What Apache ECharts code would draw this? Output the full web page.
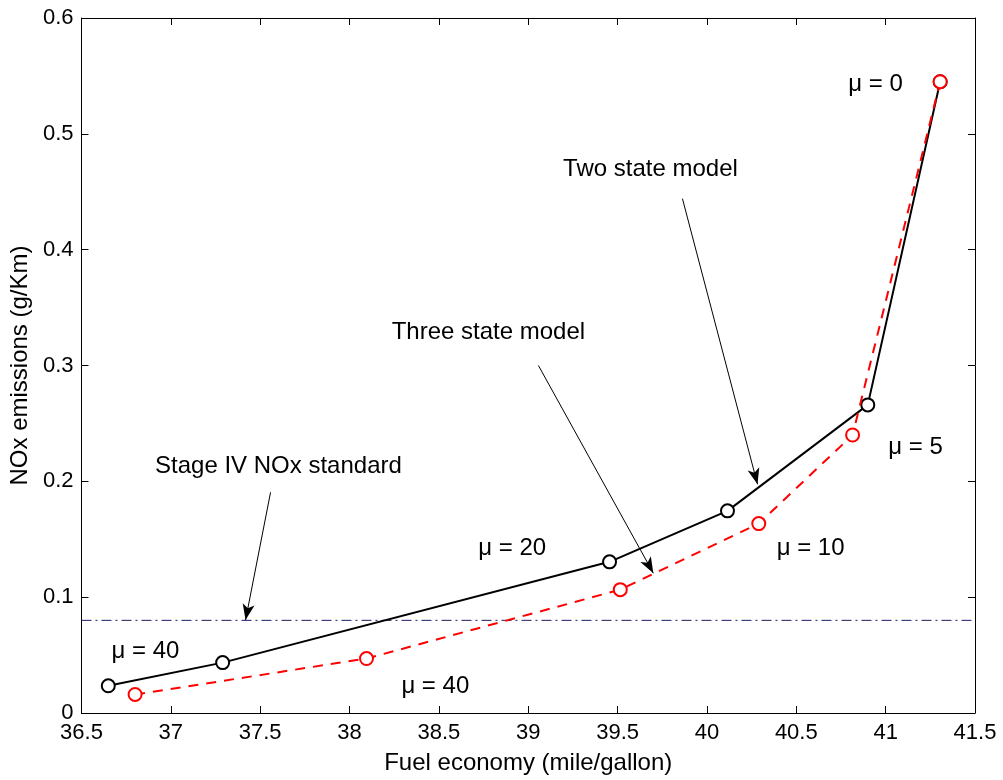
<!DOCTYPE html>
<html><head><meta charset="utf-8">
<script src="https://cdn.jsdelivr.net/npm/echarts@6/dist/echarts.min.js"></script>
<style>html,body{margin:0;padding:0;background:#fff}#c{width:1003px;height:780px}</style>
</head><body><div id="c"></div>
<script>
const twoStateX = [36.65, 37.29, 39.455, 40.115, 40.90, 41.305];
const twoStateY = [0.0235, 0.0435, 0.1305, 0.1745, 0.2660, 0.5450];
const threeStateX = [36.80, 38.095, 39.515, 40.29, 40.815, 41.305];
const threeStateY = [0.0160, 0.0470, 0.1065, 0.1635, 0.2400, 0.5450];
const standardY = 0.08;
const xTicks = {min: 36.5, max: 41.5, interval: 0.5};
const yTicks = {min: 0, max: 0.6, interval: 0.1};
const labelTexts = ['μ = 0', 'μ = 5', 'μ = 10', 'μ = 20', 'μ = 40', 'μ = 40', 'Two state model', 'Three state model', 'Stage IV NOx standard'];
const labelX = [40.943, 41.167, 40.58, 38.91, 36.858, 38.48, 39.684, 38.777, 37.602];
const labelY = [0.543, 0.229, 0.142, 0.142, 0.0534, 0.0233, 0.469, 0.329, 0.213];
const arrowFrom = [[39.863, 0.444], [39.057, 0.300], [37.558, 0.1905]];
const arrowTo = [[40.283, 0.1974], [39.70, 0.1207], [37.418, 0.0802]];

const FONT = '"Liberation Sans", Arial, sans-serif';
const zip = (a, b) => a.map((v, i) => [v, b[i]]);
const chart = echarts.init(document.getElementById('c'), null, {renderer: 'canvas'});
const axisCommon = {
  axisLine: {show: true, onZero: false, lineStyle: {color: '#000', width: 1}},
  axisTick: {show: true, inside: true, length: 7, lineStyle: {color: '#000'}},
  splitLine: {show: false}
};
chart.setOption({
  backgroundColor: '#fff',
  animation: false,
  grid: {left: 80, right: 28, top: 18, bottom: 67},
  xAxis: [
    Object.assign({type: 'value', position: 'bottom', min: xTicks.min, max: xTicks.max, interval: xTicks.interval,
      name: 'Fuel economy (mile/gallon)', nameLocation: 'middle', nameGap: 38,
      nameTextStyle: {fontFamily: FONT, fontSize: 24, color: '#000'},
      axisLabel: {fontFamily: FONT, fontSize: 22, color: '#000', margin: 9}}, axisCommon),
    Object.assign({type: 'value', position: 'top', min: xTicks.min, max: xTicks.max, interval: xTicks.interval,
      axisLabel: {show: false}}, axisCommon)
  ],
  yAxis: [
    Object.assign({type: 'value', position: 'left', min: yTicks.min, max: yTicks.max, interval: yTicks.interval,
      name: 'NOx emissions (g/Km)', nameLocation: 'middle', nameGap: 44, nameRotate: 90,
      nameTextStyle: {fontFamily: FONT, fontSize: 24, color: '#000'},
      axisLabel: {fontFamily: FONT, fontSize: 22, color: '#000', margin: 8}}, axisCommon),
    Object.assign({type: 'value', position: 'right', min: yTicks.min, max: yTicks.max, interval: yTicks.interval,
      axisLabel: {show: false}}, axisCommon)
  ],
  series: [
    {type: 'line', data: [[xTicks.min, standardY], [xTicks.max, standardY]], symbol: 'none',
      lineStyle: {color: '#1a1a66', width: 1, type: [10, 4, 2, 4]}, z: 1},
    {type: 'line', data: zip(twoStateX, twoStateY), symbol: 'emptyCircle', symbolSize: 13,
      lineStyle: {color: '#000', width: 2}, itemStyle: {color: '#000', borderColor: '#000', borderWidth: 1.6}, z: 3},
    {type: 'line', data: zip(threeStateX, threeStateY), symbol: 'emptyCircle', symbolSize: 13,
      lineStyle: {color: '#ff0000', width: 2, type: [10, 8]}, itemStyle: {color: '#ff0000', borderColor: '#ff0000', borderWidth: 1.6}, z: 4},
    {type: 'scatter', data: labelX.map((x, i) => ({value: [x, labelY[i]], name: labelTexts[i]})),
      symbolSize: 1, itemStyle: {color: 'transparent'}, silent: true, z: 5,
      label: {show: true, position: 'inside', formatter: p => p.name, fontFamily: FONT, fontSize: 24,
        color: '#000', textBorderWidth: 0, textBorderColor: 'transparent', opacity: 1},
      markLine: {silent: true, symbol: ['none', 'arrow'], symbolSize: [9, 16],
        lineStyle: {color: '#000', width: 1, type: 'solid'}, label: {show: false},
        data: arrowFrom.map((f, i) => [{coord: f}, {coord: arrowTo[i]}])}
    }
  ]
});
</script></body></html>
